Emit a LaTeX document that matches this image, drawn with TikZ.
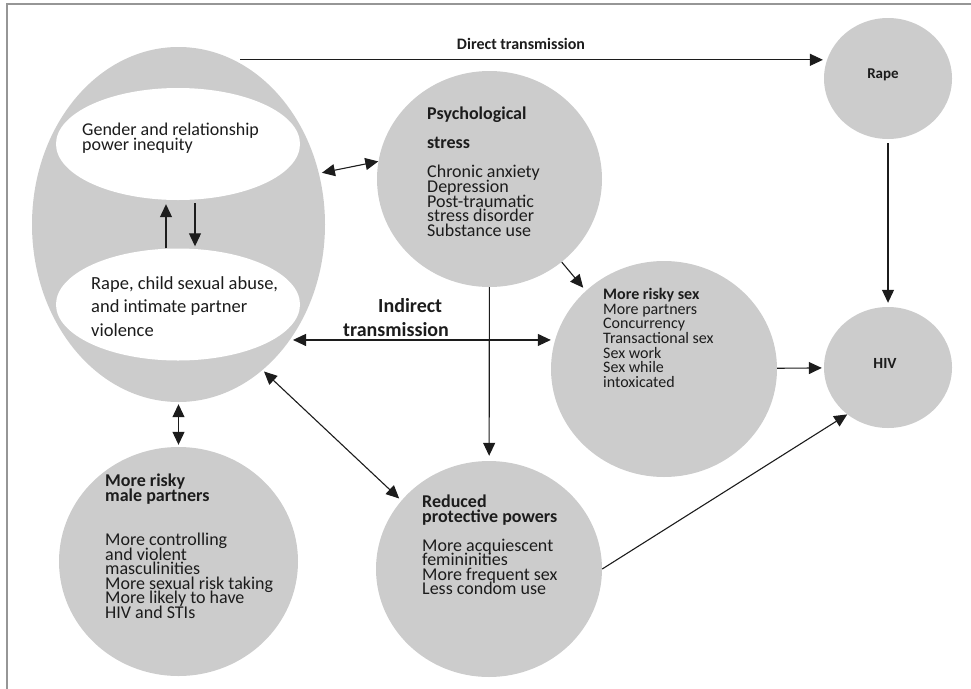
\documentclass[tikz,border=0pt]{standalone}
\usepackage{fontspec}
\setmainfont{Carlito}
\usetikzlibrary{positioning,arrows.meta,shapes.geometric}
\definecolor{bubblegray}{RGB}{204,204,204}
\definecolor{framegray}{RGB}{150,150,150}
\definecolor{inkdark}{RGB}{28,28,28}
\newcommand{\tightlines}{\lineskiplimit=-50pt\relax}

\begin{document}
\begin{tikzpicture}[x=1pt,y=-1pt,
  bubble/.style={ellipse,fill=bubblegray,inner sep=0pt},
  blob/.style={ellipse,fill=white,inner sep=0pt,minimum width=244pt,minimum height=112pt},
  txt/.style={anchor=north west,inner sep=0pt,align=left,text=inkdark},
  arr/.style={-{Triangle[length=13pt,width=12pt]},line width=1.1pt,draw=inkdark},
  darr/.style={{Triangle[length=13pt,width=12pt]}-{Triangle[length=13pt,width=12pt]},line width=1.1pt,draw=inkdark}]
\useasboundingbox (0,0) rectangle (971,688);
% Frame
\draw[framegray,line width=1.6pt] (7,700) -- (7,4) -- (980,4);

% Bubbles
\node[bubble,minimum width=293pt,minimum height=355pt] (ell) at (178.5,224.5) {};
\node[blob] (gen) at (178,144) {};
\node[blob] (abuse) at (178,304.5) {};
\node[bubble,minimum width=225pt,minimum height=216pt] (psych) at (489.5,179) {};
\node[bubble,minimum width=128pt,minimum height=121pt] (rape) at (888,78.5) {};
\node[bubble,minimum width=128pt,minimum height=121pt] (hiv) at (888,367.5) {};
\node[bubble,minimum width=226pt,minimum height=216pt] (risky) at (664,369) {};
\node[bubble,minimum width=239pt,minimum height=229pt] (male) at (178.5,561.5) {};
\node[bubble,minimum width=226pt,minimum height=216pt] (reduced) at (489,569) {};

% Texts
\node[txt,font=\fontsize{18}{14.3}\selectfont\tightlines] (gentxt) at (82,123)
  {Gender and relationship\\power inequity};
\node[txt,font=\fontsize{18.5}{23.5}\selectfont\tightlines] (abusetxt) at (91,276)
  {Rape, child sexual abuse,\\and intimate partner\\violence};
\node[txt,font=\fontsize{18}{14.6}\selectfont\tightlines] (psychtxt) at (427,107)
  {\textbf{Psychological}\\[14.4pt]\textbf{stress}\\[14.4pt]Chronic anxiety\\Depression\\Post-traumatic\\stress disorder\\Substance use};
\node[txt,font=\fontsize{16}{14.7}\selectfont\tightlines] (riskytxt) at (603,288)
  {\textbf{More risky sex}\\More partners\\Concurrency\\Transactional sex\\Sex work\\Sex while\\intoxicated};
\node[txt,font=\fontsize{18}{14.5}\selectfont\tightlines] (maletxt) at (105,474)
  {\textbf{More risky}\\\textbf{male partners}\\[30pt]More controlling\\and violent\\masculinities\\More sexual risk taking\\More likely to have\\HIV and STIs};
\node[txt,font=\fontsize{18}{14.5}\selectfont\tightlines] (reducedtxt) at (422,495)
  {\textbf{Reduced}\\\textbf{protective powers}\\[14.5pt]More acquiescent\\femininities\\More frequent sex\\Less condom use};
\node[anchor=base,inner sep=0pt,text=inkdark,font=\fontsize{15}{18}\selectfont\bfseries] (rapetxt) at (883,78) {Rape};
\node[anchor=base,inner sep=0pt,text=inkdark,font=\fontsize{15.5}{18}\selectfont\bfseries] (hivtxt) at (885,368) {HIV};
\node[anchor=base,inner sep=0pt,text=inkdark,font=\fontsize{16}{18}\selectfont\bfseries] (directtxt) at (521,49) {Direct transmission};
\node[txt,font=\fontsize{20}{24}\selectfont\bfseries\tightlines] (indirecttxt) at (343,298) {\hspace*{35pt}Indirect\\transmission};

% Connectors
\draw[arr,line width=0.9pt,shorten >=4pt] (ell.69 |- rape.163) -- (rape.163);
\draw[arr,shorten <=4pt,shorten >=4pt] (rape) -- (hiv);
\draw[arr,shorten >=2pt] (risky) -- (hiv);
\draw[arr] (reduced.east) -- (hiv.229);
\draw[arr,shorten >=5pt] (psych) -- (reduced);
\draw[arr,shorten >=4pt] (psych.-49) -- (risky.135);
\draw[darr,shorten <=3pt] (ell.20) -- (psych.171);
\draw[darr,shorten <=3pt] (ell.-46.5) -- (ell.-46.5 -| risky.west);
\draw[darr,shorten <=2pt,shorten >=3pt] (ell.-60) -- (reduced.142);
\draw[darr,shorten <=2pt,shorten >=2pt] (ell) -- (male);
\draw[arr,shorten >=4pt] ([xshift=-12pt]abuse.north) -- ([xshift=-12pt]gen.south);
\draw[arr,shorten <=3pt,shorten >=2pt] ([xshift=17pt]gen.south) -- ([xshift=17pt]abuse.north);
\end{tikzpicture}
\end{document}
